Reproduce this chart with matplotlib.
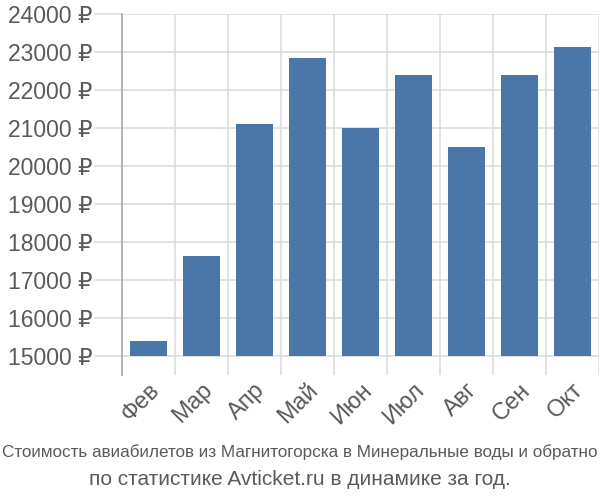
import matplotlib
matplotlib.use('Agg')
import matplotlib.pyplot as plt

months = ['Фев', 'Мар', 'Апр', 'Май', 'Июн', 'Июл', 'Авг', 'Сен', 'Окт']
prices = [15390, 17630, 21100, 22840, 21000, 22390, 20500, 22390, 23130]
yticks = list(range(15000, 24001, 1000))
title1 = 'Стоимость авиабилетов из Магнитогорска в Минеральные воды и обратно'
title2 = 'по статистике Avticket.ru в динамике за год.'

plt.rcParams['font.family'] = ['Liberation Sans', 'DejaVu Sans']

grey = '#5a5a5a'
gridc = '#dddddd'

fig = plt.figure(figsize=(6, 5), dpi=100)
ax = fig.add_axes([0.203, 0.25, 0.795, 0.722])

x = list(range(len(months)))
ax.bar(x, [p - 15000 for p in prices], bottom=15000, width=0.7, color='#4a76a8', zorder=3)

ax.set_xlim(-0.5, len(months) - 0.5)
ax.set_ylim(14500, 24000)
ax.set_yticks(yticks)
ax.set_yticklabels([f'{v} ₽' for v in yticks], fontsize=16.5, color=grey)
ax.set_xticks(x)
ax.set_xticklabels(months, rotation=45, ha='right', rotation_mode='anchor', fontsize=17, color=grey)
ax.set_xticks([i - 0.5 for i in range(len(months) + 1)], minor=True)

ax.tick_params(axis='y', length=20, color=gridc, width=1.2, pad=1)
ax.tick_params(axis='x', which='major', length=0, pad=3)
ax.tick_params(axis='x', which='minor', length=0)
ax.grid(axis='y', color=gridc, linewidth=1.2, zorder=0)
ax.grid(axis='x', which='minor', color=gridc, linewidth=1.2, zorder=0)

for s in ['top', 'right', 'bottom']:
    ax.spines[s].set_visible(False)
ax.spines['left'].set_color('#aaaaaa')
ax.spines['left'].set_linewidth(1.2)

fig.text(0.5, 0.087, title1, ha='center', fontsize=12.3, color=grey)
fig.text(0.5, 0.03, title2, ha='center', fontsize=15, color=grey)

fig.savefig('out.png', dpi=100)
